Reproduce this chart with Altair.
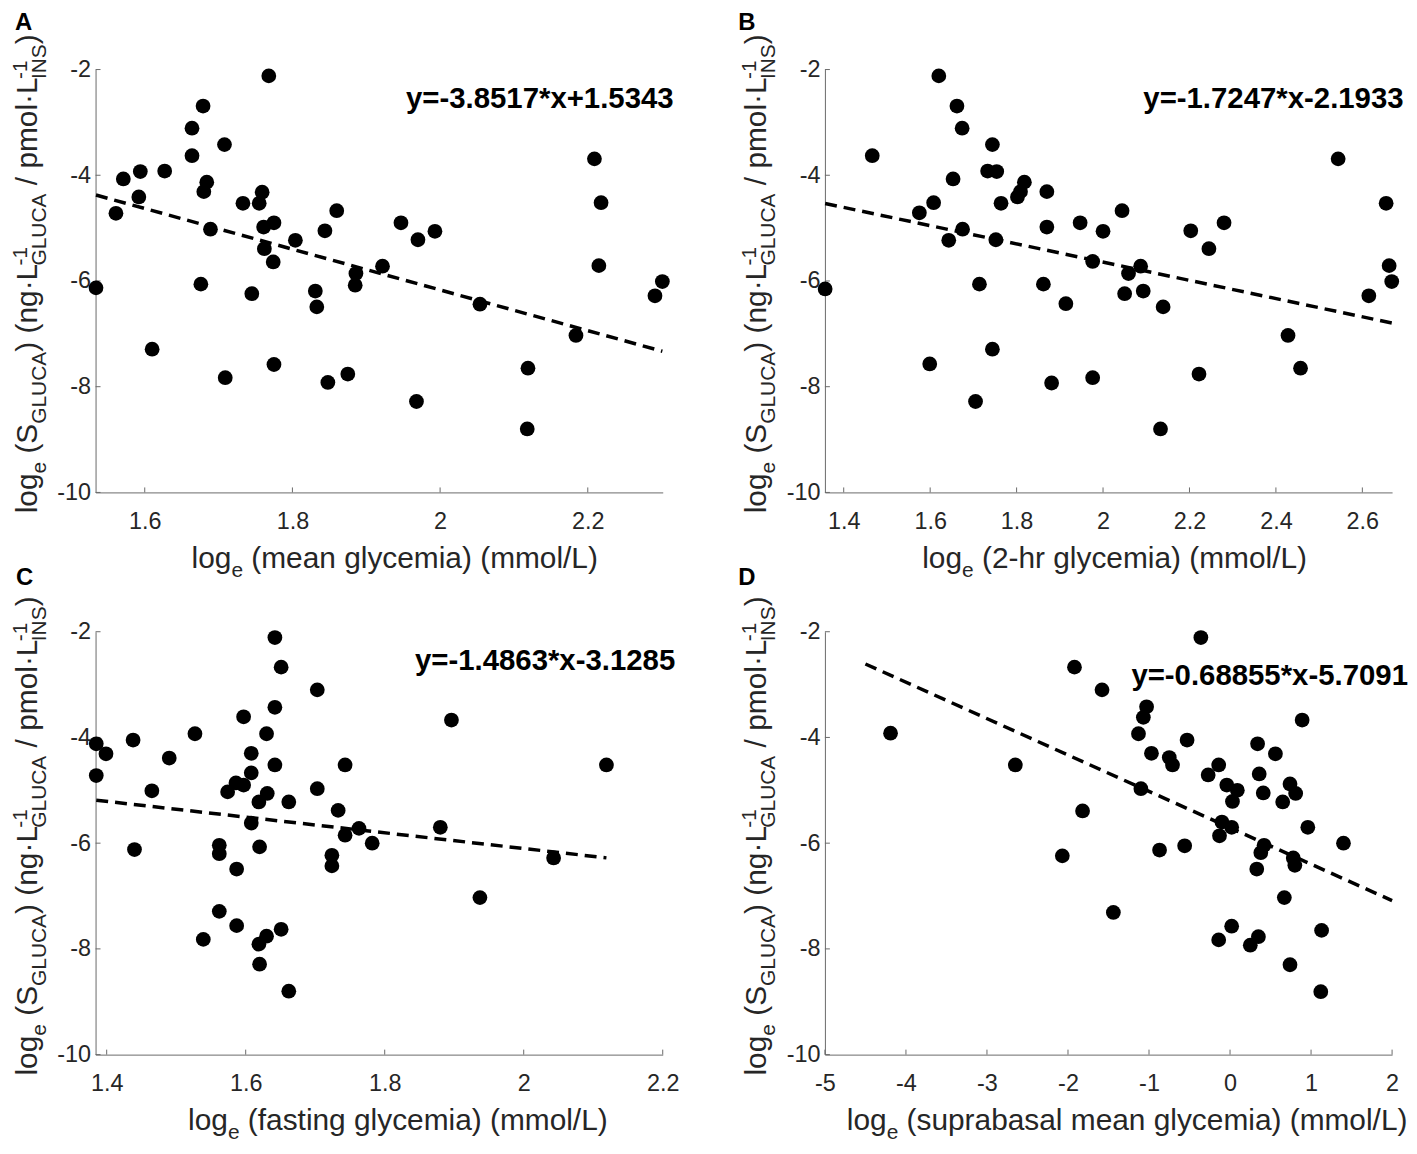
import altair as alt
import pandas as pd

FONT = "Liberation Sans"
INK = "#262626"
AXIS_GRAY = "#6a6a6a"
W, H = 570, 425
TICK_LEN = 5

# panel A: mean glycemia
A_X = [1.534, 1.561, 1.571, 1.594, 1.592, 1.627, 1.610, 1.664, 1.679, 1.664, 1.684, 1.680, 1.689,
       1.676, 1.708, 1.709, 1.733, 1.755, 1.759, 1.745, 1.768, 1.761, 1.775, 1.762, 1.774, 1.775,
       1.804, 1.844, 1.860, 1.831, 1.833, 1.848, 1.875, 1.886, 1.885, 1.922, 1.947, 1.970, 1.993,
       1.968, 2.054, 2.119, 2.118, 2.184, 2.209, 2.218, 2.215, 2.291, 2.301]
A_Y = [-6.13, -4.72, -4.07, -3.93, -4.41, -3.92, -7.29, -3.11, -2.69, -3.63, -4.13, -4.31, -5.02,
       -6.06, -3.42, -7.83, -4.53, -4.53, -4.32, -6.24, -2.12, -4.98, -4.90, -5.39, -5.64, -7.58,
       -5.23, -5.05, -4.67, -6.19, -6.49, -7.92, -7.76, -5.86, -6.08, -5.72, -4.90, -5.22, -5.06,
       -8.28, -6.44, -7.65, -8.80, -7.03, -3.69, -4.52, -5.71, -6.28, -6.01]
A_FIT_X = [1.534, 2.301]
A_FIT_Y = [-4.374, -7.329]

# panel B: 2-hr glycemia
B_X = [1.357, 1.466, 1.575, 1.608, 1.620, 1.599, 1.653, 1.662, 1.674, 1.675, 1.643, 1.714, 1.705,
       1.744, 1.733, 1.754, 1.764, 1.752, 1.744, 1.802, 1.809, 1.818, 1.870, 1.870, 1.862, 1.881,
       1.947, 1.976, 1.914, 1.976, 2.000, 2.044, 2.059, 2.087, 2.050, 2.093, 2.139, 2.133, 2.203,
       2.245, 2.280, 2.222, 2.428, 2.457, 2.544, 2.615, 2.655, 2.662, 2.668]
B_Y = [-6.15, -3.63, -4.71, -4.52, -2.12, -7.57, -4.07, -2.69, -3.11, -5.02, -5.23, -6.06, -8.28,
       -3.42, -3.92, -3.93, -4.53, -5.22, -7.29, -4.41, -4.31, -4.13, -4.31, -4.98, -6.06, -7.93,
       -4.90, -5.63, -6.43, -7.83, -5.06, -4.67, -5.86, -5.72, -6.24, -6.19, -6.49, -8.80, -5.05,
       -5.39, -4.90, -7.76, -7.03, -7.65, -3.69, -6.28, -4.53, -5.71, -6.01]
B_FIT_X = [1.357, 2.668]
B_FIT_Y = [-4.534, -6.795]

# panel C: fasting glycemia
C_X = [1.385, 1.385, 1.399, 1.438, 1.440, 1.465, 1.490, 1.527, 1.539, 1.562, 1.562, 1.562, 1.574,
       1.586, 1.587, 1.587, 1.597, 1.597, 1.608, 1.608, 1.608, 1.620, 1.619, 1.619, 1.620, 1.630,
       1.631, 1.630, 1.642, 1.642, 1.642, 1.651, 1.651, 1.662, 1.662, 1.703, 1.703, 1.724, 1.724,
       1.733, 1.743, 1.743, 1.763, 1.782, 1.880, 1.896, 1.937, 2.043, 2.119]
C_Y = [-4.12, -4.72, -4.31, -4.05, -6.12, -5.01, -4.39, -3.93, -7.82, -7.29, -6.04, -6.20, -5.03,
       -4.86, -6.49, -7.56, -3.61, -4.90, -4.30, -4.67, -5.62, -6.07, -5.22, -7.91, -8.29, -3.93,
       -5.06, -7.76, -2.11, -3.43, -4.52, -2.67, -7.63, -5.22, -8.80, -3.10, -4.97, -6.23, -6.43,
       -5.38, -4.52, -5.85, -5.72, -6.00, -5.70, -3.67, -7.03, -6.28, -4.52]
C_FIT_X = [1.385, 2.119]
C_FIT_Y = [-5.187, -6.278]

# panel D: suprabasal mean glycemia
D_X = [-4.19, -2.65, -2.07, -1.92, -1.82, -1.58, -1.44, -1.13, -1.10, -1.07, -1.03, -0.97, -0.87,
       -0.75, -0.71, -0.56, -0.53, -0.36, -0.27, -0.14, -0.13, -0.14, -0.10, -0.04, 0.02, 0.03,
       0.02, 0.09, 0.25, 0.33, 0.34, 0.36, 0.35, 0.38, 0.41, 0.42, 0.56, 0.65, 0.67, 0.74, 0.78,
       0.80, 0.74, 0.81, 0.89, 0.96, 1.13, 1.12, 1.40]
D_Y = [-3.92, -4.52, -6.24, -2.67, -5.39, -3.10, -7.31, -3.93, -4.97, -3.62, -3.42, -4.30, -6.13,
       -4.38, -4.52, -6.05, -4.05, -2.11, -4.71, -4.52, -5.86, -7.83, -5.60, -4.90, -5.70, -5.21,
       -7.57, -5.00, -7.93, -6.49, -4.12, -4.69, -7.77, -6.18, -5.05, -6.04, -4.31, -5.22, -7.03,
       -4.88, -6.28, -6.42, -8.30, -5.06, -3.67, -5.70, -7.65, -8.81, -6.00]
D_FIT_X = [-4.5, 2.0]
D_FIT_Y = [-2.611, -7.086]

Y_DOMAIN = [-10, -2]
Y_TICKS = [-10, -8, -6, -4, -2]

# Arial / Liberation Sans advance widths (per 1000 em), for placing title pieces
ARIAL = {" ": 278, "(": 333, ")": 333, "-": 333, "/": 278, "1": 556, "A": 667, "C": 722,
         "G": 778, "I": 278, "L": 556, "N": 722, "S": 667, "U": 722, "e": 556, "g": 556,
         "l": 222, "m": 833, "n": 556, "o": 556, "p": 556, "\u00b7": 278}

F_TITLE = 30
F_SUB = 21
SUB_SHIFT = 9
SUP_SHIFT = -10

ONE = pd.DataFrame({"k": [0]})


def text_w(s, size):
    return sum(ARIAL[c] for c in s) * size / 1000


def label(s, x, y, size, angle=0, weight="normal", color=INK):
    props = dict(text=s, align="left", baseline="alphabetic", font=FONT, fontSize=size,
                 fontWeight=weight, color=color)
    if angle:
        props["angle"] = angle
    return alt.Chart(ONE).mark_text(**props).encode(x=alt.value(x), y=alt.value(y))


# y title: log_e (S_GLUCA) (ng·L^-1_GLUCA / pmol·L^-1_INS), read bottom to top
Y_TITLE = [
    [("log", "n")], [("e", "sub")], " ", [("(S", "n")], [("GLUCA", "sub")], [(")", "n")], " ",
    [("(ng\u00b7L", "n")], [("-1", "sup"), ("GLUCA", "sub")], " ", [("/", "n")], " ",
    [("pmol\u00b7L", "n")], [("-1", "sup"), ("INS", "sub")], [(")", "n")],
]


def y_title_layers(base_x=-59, start=H + 21):
    layers = []
    pos = start
    for group in Y_TITLE:
        if group == " ":
            pos -= text_w(" ", F_TITLE)
            continue
        adv = 0
        for s, kind in group:
            size = F_TITLE if kind == "n" else F_SUB
            shift = {"n": 0, "sub": SUB_SHIFT, "sup": SUP_SHIFT}[kind]
            layers.append(label(s, base_x + shift, pos, size, angle=270))
            adv = max(adv, text_w(s, size))
        pos -= adv
    return layers


def x_title_layers(rest, start, base_y=H + 76):
    x1 = start + text_w("log", F_TITLE)
    x2 = x1 + text_w("e", F_SUB) + text_w(" ", F_TITLE)
    return [
        label("log", start, base_y, F_TITLE),
        label("e", x1, base_y + SUB_SHIFT, F_SUB),
        label(rest, x2, base_y, F_TITLE),
    ]


def panel(letter, letter_pos, xs, ys, fit_x, fit_y, x_dom, x_ticks, eq, eq_pos,
          x_rest, x_start):
    xscale = alt.Scale(domain=x_dom, nice=False, zero=False)
    yscale = alt.Scale(domain=Y_DOMAIN, nice=False, zero=False)
    xaxis = alt.Axis(values=x_ticks, labelExpr="toString(datum.value)", title=None)
    yaxis = alt.Axis(values=Y_TICKS, labelExpr="toString(datum.value)", title=None)

    points = alt.Chart(pd.DataFrame({"x": xs, "y": ys})).mark_circle(
        size=220, color="black", opacity=1
    ).encode(
        x=alt.X("x:Q", scale=xscale, axis=xaxis),
        y=alt.Y("y:Q", scale=yscale, axis=yaxis),
    )

    fit = alt.Chart(pd.DataFrame({"x": fit_x, "y": fit_y})).mark_line(
        color="black", strokeWidth=3.5, strokeDash=[12, 7]
    ).encode(
        x=alt.X("x:Q", scale=xscale, axis=xaxis),
        y=alt.Y("y:Q", scale=yscale, axis=yaxis),
    )

    xt = alt.Chart(pd.DataFrame({"x": x_ticks})).mark_rule(color=AXIS_GRAY, strokeWidth=1).encode(
        x=alt.X("x:Q", scale=xscale, axis=xaxis), y=alt.value(H), y2=alt.value(H - TICK_LEN)
    )
    yt = alt.Chart(pd.DataFrame({"y": Y_TICKS})).mark_rule(color=AXIS_GRAY, strokeWidth=1).encode(
        y=alt.Y("y:Q", scale=yscale, axis=yaxis), x=alt.value(0), x2=alt.value(TICK_LEN)
    )

    eq_text = label(eq, eq_pos[0], eq_pos[1], 29.5, weight="bold", color="black")
    tag = label(letter, letter_pos[0], letter_pos[1], 24, weight="bold", color="black")

    layers = [xt, yt, fit, points, eq_text, tag] + y_title_layers() + x_title_layers(x_rest, x_start)
    return alt.layer(*layers).properties(width=W, height=H)


pa = panel("A", (-81, -40), A_X, A_Y, A_FIT_X, A_FIT_Y, [1.5334, 2.3015], [1.6, 1.8, 2.0, 2.2],
           "y=-3.8517*x+1.5343", (312, 39), "(mean glycemia) (mmol/L)", 96.5)
pb = panel("B", (-87, -40), B_X, B_Y, B_FIT_X, B_FIT_Y, [1.3565, 2.6688],
           [1.4, 1.6, 1.8, 2.0, 2.2, 2.4, 2.6],
           "y=-1.7247*x-2.1933", (320, 39), "(2-hr glycemia) (mmol/L)", 97.8)
pc = panel("C", (-80, -47), C_X, C_Y, C_FIT_X, C_FIT_Y, [1.384, 2.2], [1.4, 1.6, 1.8, 2.0, 2.2],
           "y=-1.4863*x-3.1285", (321, 38.5), "(fasting glycemia) (mmol/L)", 93)
pd_ = panel("D", (-87, -47), D_X, D_Y, D_FIT_X, D_FIT_Y, [-5, 2], [-5, -4, -3, -2, -1, 0, 1, 2],
            "y=-0.68855*x-5.7091", (308, 53.5), "(suprabasal mean glycemia) (mmol/L)", 22)

chart = alt.concat(
    pa, pb, pc, pd_, columns=2, spacing={"row": 140, "column": 163}, bounds="flush"
).properties(
    padding={"left": 2, "top": 0, "right": 0, "bottom": 0}
).configure_view(stroke=None).configure_axis(
    grid=False, ticks=False, tickSize=0, domainColor=AXIS_GRAY, domainWidth=1,
    labelFont=FONT, labelFontSize=23.5, labelColor=INK, labelFlush=False, labelOverlap=False,
).configure_axisX(labelPadding=17).configure_axisY(labelPadding=5)

chart.save("out.html", embed_options={"renderer": "svg", "actions": False})
